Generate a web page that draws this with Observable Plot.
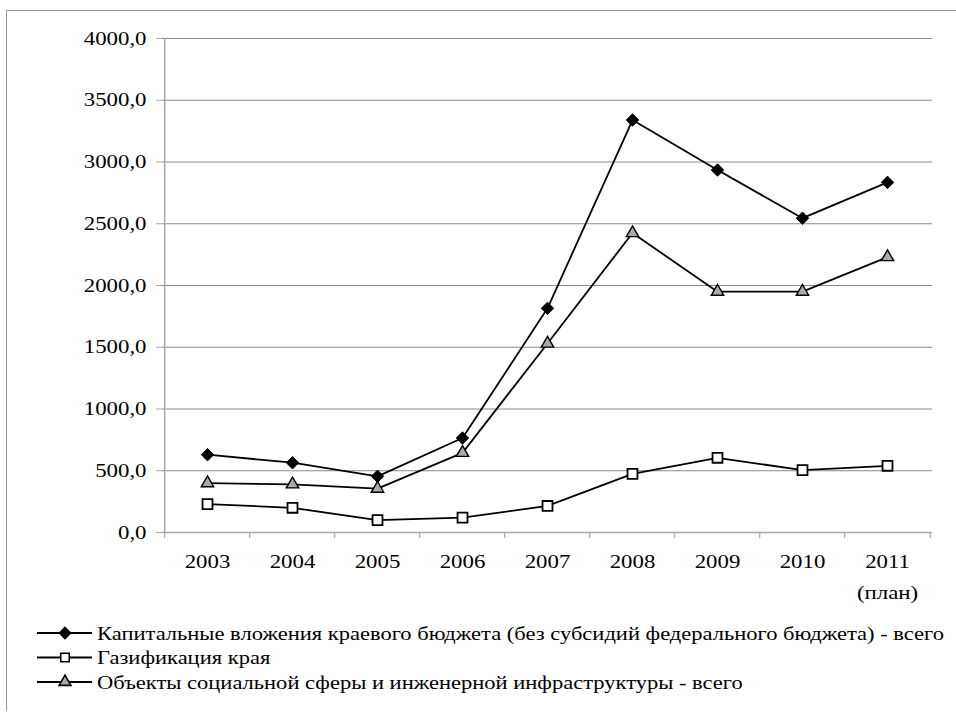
<!DOCTYPE html>
<html>
<head>
<meta charset="utf-8">
<script src="https://cdn.jsdelivr.net/npm/d3@7"></script>
<script src="https://cdn.jsdelivr.net/npm/@observablehq/plot@0.6"></script>
<style>
  html, body { margin: 0; padding: 0; background: #fff; }
  #wrap { position: relative; width: 956px; height: 713px; overflow: hidden; font-family: 'Liberation Serif', serif; }
  #border { position: absolute; left: 6px; top: 10px; width: 1000px; height: 700px; border-left: 1px solid #9a9a9a; border-top: 1px solid #9a9a9a; }
  #chart { position: absolute; left: 0; top: 0; }
  #legend { position: absolute; left: 0; top: 610px; }
  #wrap svg text { font-family: 'Liberation Serif', serif; }
</style>
</head>
<body>
<div id="wrap">
  <div id="border"></div>
  <div id="chart"></div>
  <div id="legend"></div>
</div>
<script>
// ---- data ----
const years = ["2003", "2004", "2005", "2006", "2007", "2008", "2009", "2010", "2011"];
const xLabels = ["2003", "2004", "2005", "2006", "2007", "2008", "2009", "2010", "2011"];
const xSubLabels = ["", "", "", "", "", "", "", "", "(план)"];
const capital = [630, 565, 455, 765, 1815, 3340, 2935, 2545, 2835];
const gas = [230, 200, 100, 120, 215, 475, 605, 505, 540];
const social = [400, 390, 355, 645, 1530, 2425, 1950, 1950, 2230];
const yTicks = [0, 500, 1000, 1500, 2000, 2500, 3000, 3500, 4000];
const seriesNames = [
  "Капитальные вложения краевого бюджета (без субсидий федерального бюджета) - всего",
  "Газификация края",
  "Объекты социальной сферы и инженерной инфраструктуры - всего"
];

const rows = (vals, name) => years.map((y, i) => ({year: y, value: vals[i], series: name}));
const dCap = rows(capital, seriesNames[0]);
const dGas = rows(gas, seriesNames[1]);
const dSoc = rows(social, seriesNames[2]);

const W = 956, H = 610, mL = 162, mR = 24, mT = 38, mB = 78;
const step = (W - mL - mR) / years.length;
const gridColor = "#8a8a8a";
const axisColor = "#a8a8a8";
const triFill = "#aaaaaa";
const fmt = d => d3.format(".1f")(d).replace(".", ",");

const plot = Plot.plot({
  width: W, height: H,
  marginLeft: mL, marginRight: mR, marginTop: mT, marginBottom: mB,
  style: {fontFamily: "'Liberation Serif', serif", fontSize: "19px", color: "#000", background: "transparent"},
  x: {type: "point", domain: years, padding: 0.5, axis: null, label: null},
  y: {domain: [0, 4000], axis: null, label: null},
  marks: [
    Plot.gridY(yTicks, {stroke: gridColor, strokeOpacity: 1, strokeWidth: 1}),
    Plot.ruleY([0], {stroke: axisColor, strokeWidth: 1.5}),
    Plot.ruleX([years[0]], {x: d => d, y1: 0, y2: 4000, dx: -step / 2, stroke: axisColor, strokeWidth: 1.5}),
    Plot.ruleX(years, {x: d => d, y1: 0, y2: 0, insetBottom: -6, dx: -step / 2, stroke: axisColor, strokeWidth: 1.2}),
    Plot.ruleX([years[years.length - 1]], {x: d => d, y1: 0, y2: 0, insetBottom: -6, dx: step / 2, stroke: axisColor, strokeWidth: 1.2}),
    Plot.axisY(yTicks, {tickSize: 6, tickPadding: 10, tickFormat: fmt, stroke: axisColor, fill: "#000", label: null}),
    Plot.text(years, {x: d => d, text: (d, i) => xLabels[i], frameAnchor: "bottom", lineAnchor: "top", dy: 22, fill: "#000"}),
    Plot.text(years, {x: d => d, text: (d, i) => xSubLabels[i], frameAnchor: "bottom", lineAnchor: "top", dy: 53, fill: "#000"}),
    Plot.line(dGas, {x: "year", y: "value", stroke: "#000", strokeWidth: 1.8}),
    Plot.line(dSoc, {x: "year", y: "value", stroke: "#000", strokeWidth: 1.8}),
    Plot.line(dCap, {x: "year", y: "value", stroke: "#000", strokeWidth: 1.8}),
    Plot.dot(dGas, {x: "year", y: "value", symbol: "square", r: 5.6, fill: "#fff", stroke: "#000", strokeWidth: 1.8}),
    Plot.dot(dSoc, {x: "year", y: "value", symbol: "triangle", r: 4.6, fill: triFill, stroke: "#000", strokeWidth: 1.4}),
    Plot.dot(dCap, {x: "year", y: "value", symbol: "diamond2", r: 5.6, fill: "#000", stroke: "#000", strokeWidth: 1})
  ]
});
document.getElementById("chart").appendChild(plot);

// ---- legend ----
const legendSymbols = ["diamond2", "square", "triangle"];
const legendFills = ["#000", "#fff", triFill];
const legendR = [5.0, 4.8, 4.4];
const lsvg = d3.select("#legend").append("svg").attr("width", W).attr("height", 100)
  .style("font-family", "'Liberation Serif', serif").style("font-size", "19px");
const symMap = {diamond2: d3.symbolDiamond2, square: d3.symbolSquare, triangle: d3.symbolTriangle};
seriesNames.forEach((name, i) => {
  const g = lsvg.append("g").attr("transform", `translate(0,${23 + i * 24.5})`);
  g.append("line").attr("x1", 37).attr("x2", 92).attr("stroke", "#000").attr("stroke-width", 1.8);
  g.append("path").attr("transform", "translate(65,0)")
    .attr("d", d3.symbol(symMap[legendSymbols[i]], Math.PI * legendR[i] * legendR[i])())
    .attr("fill", legendFills[i]).attr("stroke", "#000").attr("stroke-width", 1.6);
  g.append("text").attr("class", "lg").attr("x", 97).attr("y", 6.5).attr("fill", "#000").text(name);
});

// horizontal stretch of the serif text, as in the reference
document.querySelectorAll("#wrap svg text").forEach(t => {
  if (!t.textContent) return;
  const stretch = t.classList.contains("lg") ? 1.185 : 1.2;
  const len = t.getComputedTextLength();
  if (len > 0) {
    t.setAttribute("textLength", (len * stretch).toFixed(2));
    t.setAttribute("lengthAdjust", "spacingAndGlyphs");
  }
});
</script>
</body>
</html>
